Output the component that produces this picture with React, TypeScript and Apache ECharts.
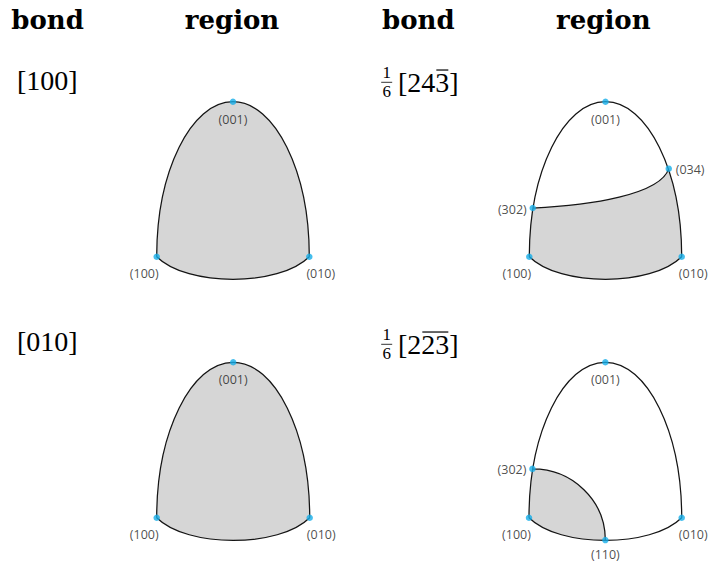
import React, { useEffect, useRef } from 'react';
import * as echarts from 'echarts';

// Poles in local projection coordinates: (100) at x=-1, (010) at x=1, (001) at y=1
const poleNames = ['(001)', '(100)', '(010)', '(302)', '(034)', '(110)'];
const poleX = [0, -1, 1, -0.955, 0.83, 0];
const poleY = [1, 0, 0, 0.314, 0.568, -0.144];

// Poles shown in each panel, and the shaded region of each panel
const panelPoles = [[0, 1, 2], [0, 1, 2, 3, 4], [0, 1, 2], [0, 1, 2, 3, 5]];
const panelRegion = ['full', 'cut034', 'full', 'cut110'];

// Boundary arcs (cubic Bezier control points, local coordinates)
const arcLeft = [[-1, 0], [-1, 0.55], [-0.55, 1], [0, 1]];
const arcRight = [[1, 0], [1, 0.55], [0.55, 1], [0, 1]];
const arcBottom = [[-1, 0], [-0.6, -0.195], [0.6, -0.195], [1, 0]];
const arc302to034 = [[-0.955, 0.314], [-0.2, 0.33], [0.72, 0.4], [0.83, 0.568]];
const arc302to110 = [[-0.955, 0.314], [-0.43, 0.314], [0, 0.11], [0, -0.144]];

// Texts
const headers = ['bond', 'region', 'bond', 'region'];
const bondText = ['[100]', '[243]', '[010]', '[223]'];
const bondFracNum = ['', '1', '', '1'];
const bondFracDen = ['', '6', '', '6'];
const bondBarDigits = [0, 1, 0, 2]; // trailing digits carrying an overline

// ---- layout / style (kept apart from the data) ----
const gridBoxes = [
  { left: 156.7, top: 101.7, width: 152.6, height: 155 },
  { left: 529.3, top: 101.7, width: 152.4, height: 155 },
  { left: 156.7, top: 362.3, width: 153, height: 155.4 },
  { left: 529, top: 362.3, width: 152.7, height: 155.4 },
];
const headerX = [47.5, 232, 418.3, 603.3];
const headerY = 20.2;
const bondLeft = [17, 398, 17, 398];
const bondMidY = [80, 82.5, 341, 344.5];
const fracX = 386.7;
const fracNumY = [0, 72.6, 0, 334.6];
const fracDenY = [0, 91.6, 0, 353.6];
const fracBarY = [0, 82.3, 0, 344.3];
const bondFont = 28;

const labelPlace: Record<string, any> = {
  '(001)': { align: 'center', offset: [0, 17.5] },
  '(100)': { align: 'center', offset: [-12.5, 16.5] },
  '(010)': { align: 'center', offset: [11.5, 16.5] },
  '(302)': { align: 'right', offset: [-6, 1] },
  '(034)': { align: 'left', offset: [7, 0.5] },
  '(110)': { align: 'center', offset: [0, 14] },
};

type P = number[];
const lerp = (a: P, b: P, t: number) => [a[0] + (b[0] - a[0]) * t, a[1] + (b[1] - a[1]) * t];
function splitBez(b: P[], t: number): P[][] {
  const [p0, p1, p2, p3] = b;
  const a = lerp(p0, p1, t), m = lerp(p1, p2, t), c = lerp(p2, p3, t);
  const d = lerp(a, m, t), e = lerp(m, c, t);
  const f = lerp(d, e, t);
  return [[p0, a, d, f], [f, e, c, p3]];
}
function bezAt(b: P[], t: number, k: number) {
  const u = 1 - t;
  return u * u * u * b[0][k] + 3 * u * u * t * b[1][k] + 3 * u * t * t * b[2][k] + t * t * t * b[3][k];
}
function tAt(b: P[], k: number, v: number) {
  let lo = 0, hi = 1;
  const inc = bezAt(b, 1, k) > bezAt(b, 0, k);
  for (let i = 0; i < 50; i++) {
    const m = (lo + hi) / 2;
    const val = bezAt(b, m, k);
    if ((val < v) === inc) lo = m; else hi = m;
  }
  return (lo + hi) / 2;
}
const rev = (b: P[]) => [b[3], b[2], b[1], b[0]];

function regionPieces(kind: string): P[][] {
  if (kind === 'full') return [arcLeft, rev(arcRight), rev(arcBottom)];
  const tl = tAt(arcLeft, 1, poleY[3]);
  if (kind === 'cut034') {
    const tr = tAt(arcRight, 1, poleY[4]);
    return [splitBez(arcLeft, tl)[0], arc302to034, rev(splitBez(arcRight, tr)[0]), rev(arcBottom)];
  }
  const tb = tAt(arcBottom, 0, poleX[5]);
  return [splitBez(arcLeft, tl)[0], arc302to110, rev(splitBez(arcBottom, tb)[0])];
}
function outlinePieces(kind: string): P[][] {
  const base = [arcLeft, arcRight, arcBottom];
  if (kind === 'cut034') base.push(arc302to034);
  if (kind === 'cut110') base.push(arc302to110);
  return base;
}

function makeRender(kind: string) {
  return (params: any, api: any) => {
    const c = (p: P) => api.coord(p);
    const seg = (b: P[]) => {
      const q = b.map(c);
      return `C${q[1][0]} ${q[1][1]} ${q[2][0]} ${q[2][1]} ${q[3][0]} ${q[3][1]}`;
    };
    const fillPieces = regionPieces(kind);
    let fd = '';
    fillPieces.forEach((b, i) => {
      const s = c(b[0]);
      fd += (i === 0 ? 'M' : 'L') + `${s[0]} ${s[1]}` + seg(b);
    });
    fd += 'Z';
    let ld = '';
    outlinePieces(kind).forEach((b) => {
      const s = c(b[0]);
      ld += `M${s[0]} ${s[1]}` + seg(b);
    });
    return {
      type: 'group',
      children: [
        { type: 'path', shape: { pathData: fd }, style: { fill: '#d6d6d6', stroke: 'none' } },
        { type: 'path', shape: { pathData: ld }, style: { fill: 'none', stroke: '#141414', lineWidth: 1.25 } },
      ],
    };
  };
}

export default function App() {
  const ref = useRef<HTMLDivElement>(null);
  useEffect(() => {
    if (!ref.current) return;
    const chart = echarts.init(ref.current, undefined, { renderer: 'svg' });

    const graphics: any[] = [];
    headers.forEach((h, i) => {
      graphics.push({
        type: 'text', x: headerX[i], y: headerY,
        style: { text: h, fontFamily: 'DejaVu Serif', fontWeight: 'bold', fontSize: 26, fill: '#000', align: 'center', verticalAlign: 'middle' },
      });
    });
    bondText.forEach((t, i) => {
      graphics.push({
        type: 'text', x: bondLeft[i], y: bondMidY[i],
        style: { text: t, fontFamily: 'Liberation Serif', fontSize: bondFont, fill: '#000', align: 'left', verticalAlign: 'middle' },
      });
      const n = bondBarDigits[i];
      if (n > 0) {
        const digits = t.length - 2;
        const x0 = bondLeft[i] + (0.333 + 0.5 * (digits - n)) * bondFont + 1;
        const x1 = bondLeft[i] + (0.333 + 0.5 * digits) * bondFont - 1;
        const yb = bondMidY[i] + 0.3375 * bondFont - 0.676 * bondFont - 3;
        graphics.push({ type: 'line', shape: { x1: x0, y1: yb, x2: x1, y2: yb }, style: { stroke: '#000', lineWidth: 1.2 } });
      }
      if (bondFracNum[i]) {
        graphics.push({
          type: 'text', x: fracX, y: fracNumY[i],
          style: { text: bondFracNum[i], fontFamily: 'Liberation Serif', fontSize: 17, fill: '#000', align: 'center', verticalAlign: 'middle' },
        });
        graphics.push({
          type: 'text', x: fracX, y: fracDenY[i],
          style: { text: bondFracDen[i], fontFamily: 'Liberation Serif', fontSize: 17, fill: '#000', align: 'center', verticalAlign: 'middle' },
        });
        graphics.push({ type: 'line', shape: { x1: fracX - 5.5, y1: fracBarY[i], x2: fracX + 5.5, y2: fracBarY[i] }, style: { stroke: '#000', lineWidth: 0.8 } });
      }
    });

    const series: any[] = [];
    panelRegion.forEach((kind, p) => {
      series.push({
        type: 'custom', xAxisIndex: p, yAxisIndex: p, coordinateSystem: 'cartesian2d',
        renderItem: makeRender(kind), data: [[0, 0]], clip: false, silent: true, z: 2,
      });
      series.push({
        type: 'scatter', xAxisIndex: p, yAxisIndex: p, symbol: 'circle', symbolSize: 6.5, z: 4, silent: true,
        clip: false,
        itemStyle: { color: '#17aee8' },
        data: panelPoles[p].map((i) => ({
          value: [poleX[i], poleY[i]], name: poleNames[i],
          label: {
            show: true, formatter: '{b}', position: 'inside', verticalAlign: 'middle',
            color: '#1c1c1c', fontFamily: 'Open Sans', fontSize: 12.5,
            ...labelPlace[poleNames[i]],
          },
        })),
      });
    });

    chart.setOption({
      animation: false,
      backgroundColor: '#ffffff',
      grid: gridBoxes.map((g) => ({ ...g, containLabel: false })),
      xAxis: gridBoxes.map((_, i) => ({ type: 'value', gridIndex: i, min: -1, max: 1, show: false })),
      yAxis: gridBoxes.map((_, i) => ({ type: 'value', gridIndex: i, min: 0, max: 1, show: false })),
      graphic: graphics,
      series,
    });
    return () => chart.dispose();
  }, []);
  return <div ref={ref} style={{ position: 'absolute', left: 0, top: 0, width: 711, height: 563 }} />;
}
